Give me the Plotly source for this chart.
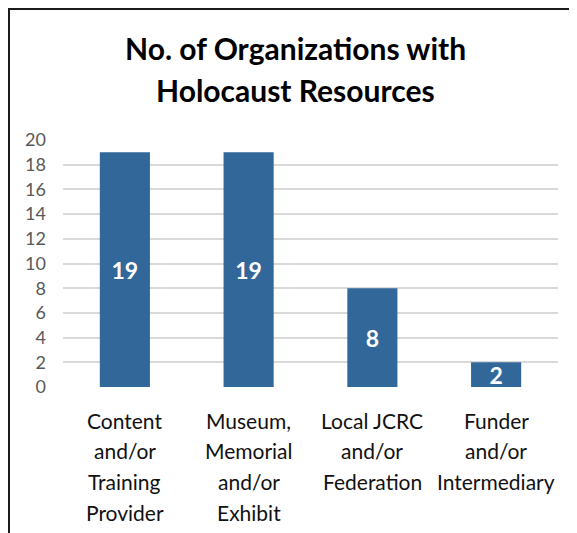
import plotly.graph_objects as go

categories = ["Content<br>and/or<br>Training<br>Provider",
              "Museum,<br>Memorial<br>and/or<br>Exhibit",
              "Local JCRC<br>and/or<br>Federation",
              "Funder<br>and/or<br>Intermediary"]
values = [19, 19, 8, 2]
y_ticks = list(range(0, 21, 2))
title_lines = ["No. of Organizations with", "Holocaust Resources"]

# page has an 8px body margin; figure drawn from page (8,8)
OFF = 8
W, H = 569, 525
ML, MR, MT, MB = 55, 19, 132, 146
pw, ph = W - ML - MR, H - MT - MB


def px_x(x):  # page x -> paper
    return (x - OFF - ML) / pw


def px_y(y):  # page y -> paper
    return (H - MB - (y - OFF)) / ph


fig = go.Figure(go.Bar(
    x=categories, y=values,
    marker=dict(color="#32679A", line=dict(width=0)),
    text=[str(v) for v in values],
    textposition="inside",
    insidetextanchor="middle",
    textangle=0,
    textfont=dict(family="Lato", size=23, color="white", weight="bold"),
    width=0.405,
))

fig.update_layout(
    width=W, height=H,
    margin=dict(l=ML, r=MR, t=MT, b=MB),
    paper_bgcolor="white", plot_bgcolor="white",
    showlegend=False,
    uniformtext=dict(minsize=23, mode="show"),
    font=dict(family="Lato"),
    xaxis=dict(
        showticklabels=False,
        showgrid=False, zeroline=False, showline=False,
    ),
    yaxis=dict(
        range=[0, 20], tickvals=y_ticks,
        tickfont=dict(family="Lato", size=18, color="#595959"),
        showgrid=True, gridcolor="#D9D9D9", gridwidth=1.5,
        zeroline=False, showline=False,
        ticklabelstandoff=16,
    ),
)

# category labels, one line at a time (Excel-like line pitch)
for cat in categories:
    for j, line in enumerate(cat.split("<br>")):
        fig.add_annotation(
            text=line, xref="x", yref="paper", x=cat,
            y=px_y(420 + j * 30.7), xanchor="center", yanchor="middle",
            showarrow=False,
            font=dict(family="Lato", size=21, color="#111111"),
        )

for i, line in enumerate(title_lines):
    fig.add_annotation(
        text="<b>%s</b>" % line, xref="paper", yref="paper",
        x=px_x(295), y=px_y([48, 90][i]), xanchor="center", yanchor="middle",
        showarrow=False, font=dict(family="Lato", size=30, color="#000000"),
    )

# chart-area border (top and left only visible)
fig.add_shape(type="line", xref="paper", yref="paper",
              x0=px_x(OFF), x1=px_x(OFF + W + 5), y0=px_y(OFF + 1), y1=px_y(OFF + 1),
              line=dict(color="#1a1a1a", width=2))
fig.add_shape(type="line", xref="paper", yref="paper",
              x0=px_x(OFF + 1), x1=px_x(OFF + 1), y0=px_y(OFF), y1=px_y(OFF + H + 5),
              line=dict(color="#1a1a1a", width=2))

fig.write_html("out.html")
